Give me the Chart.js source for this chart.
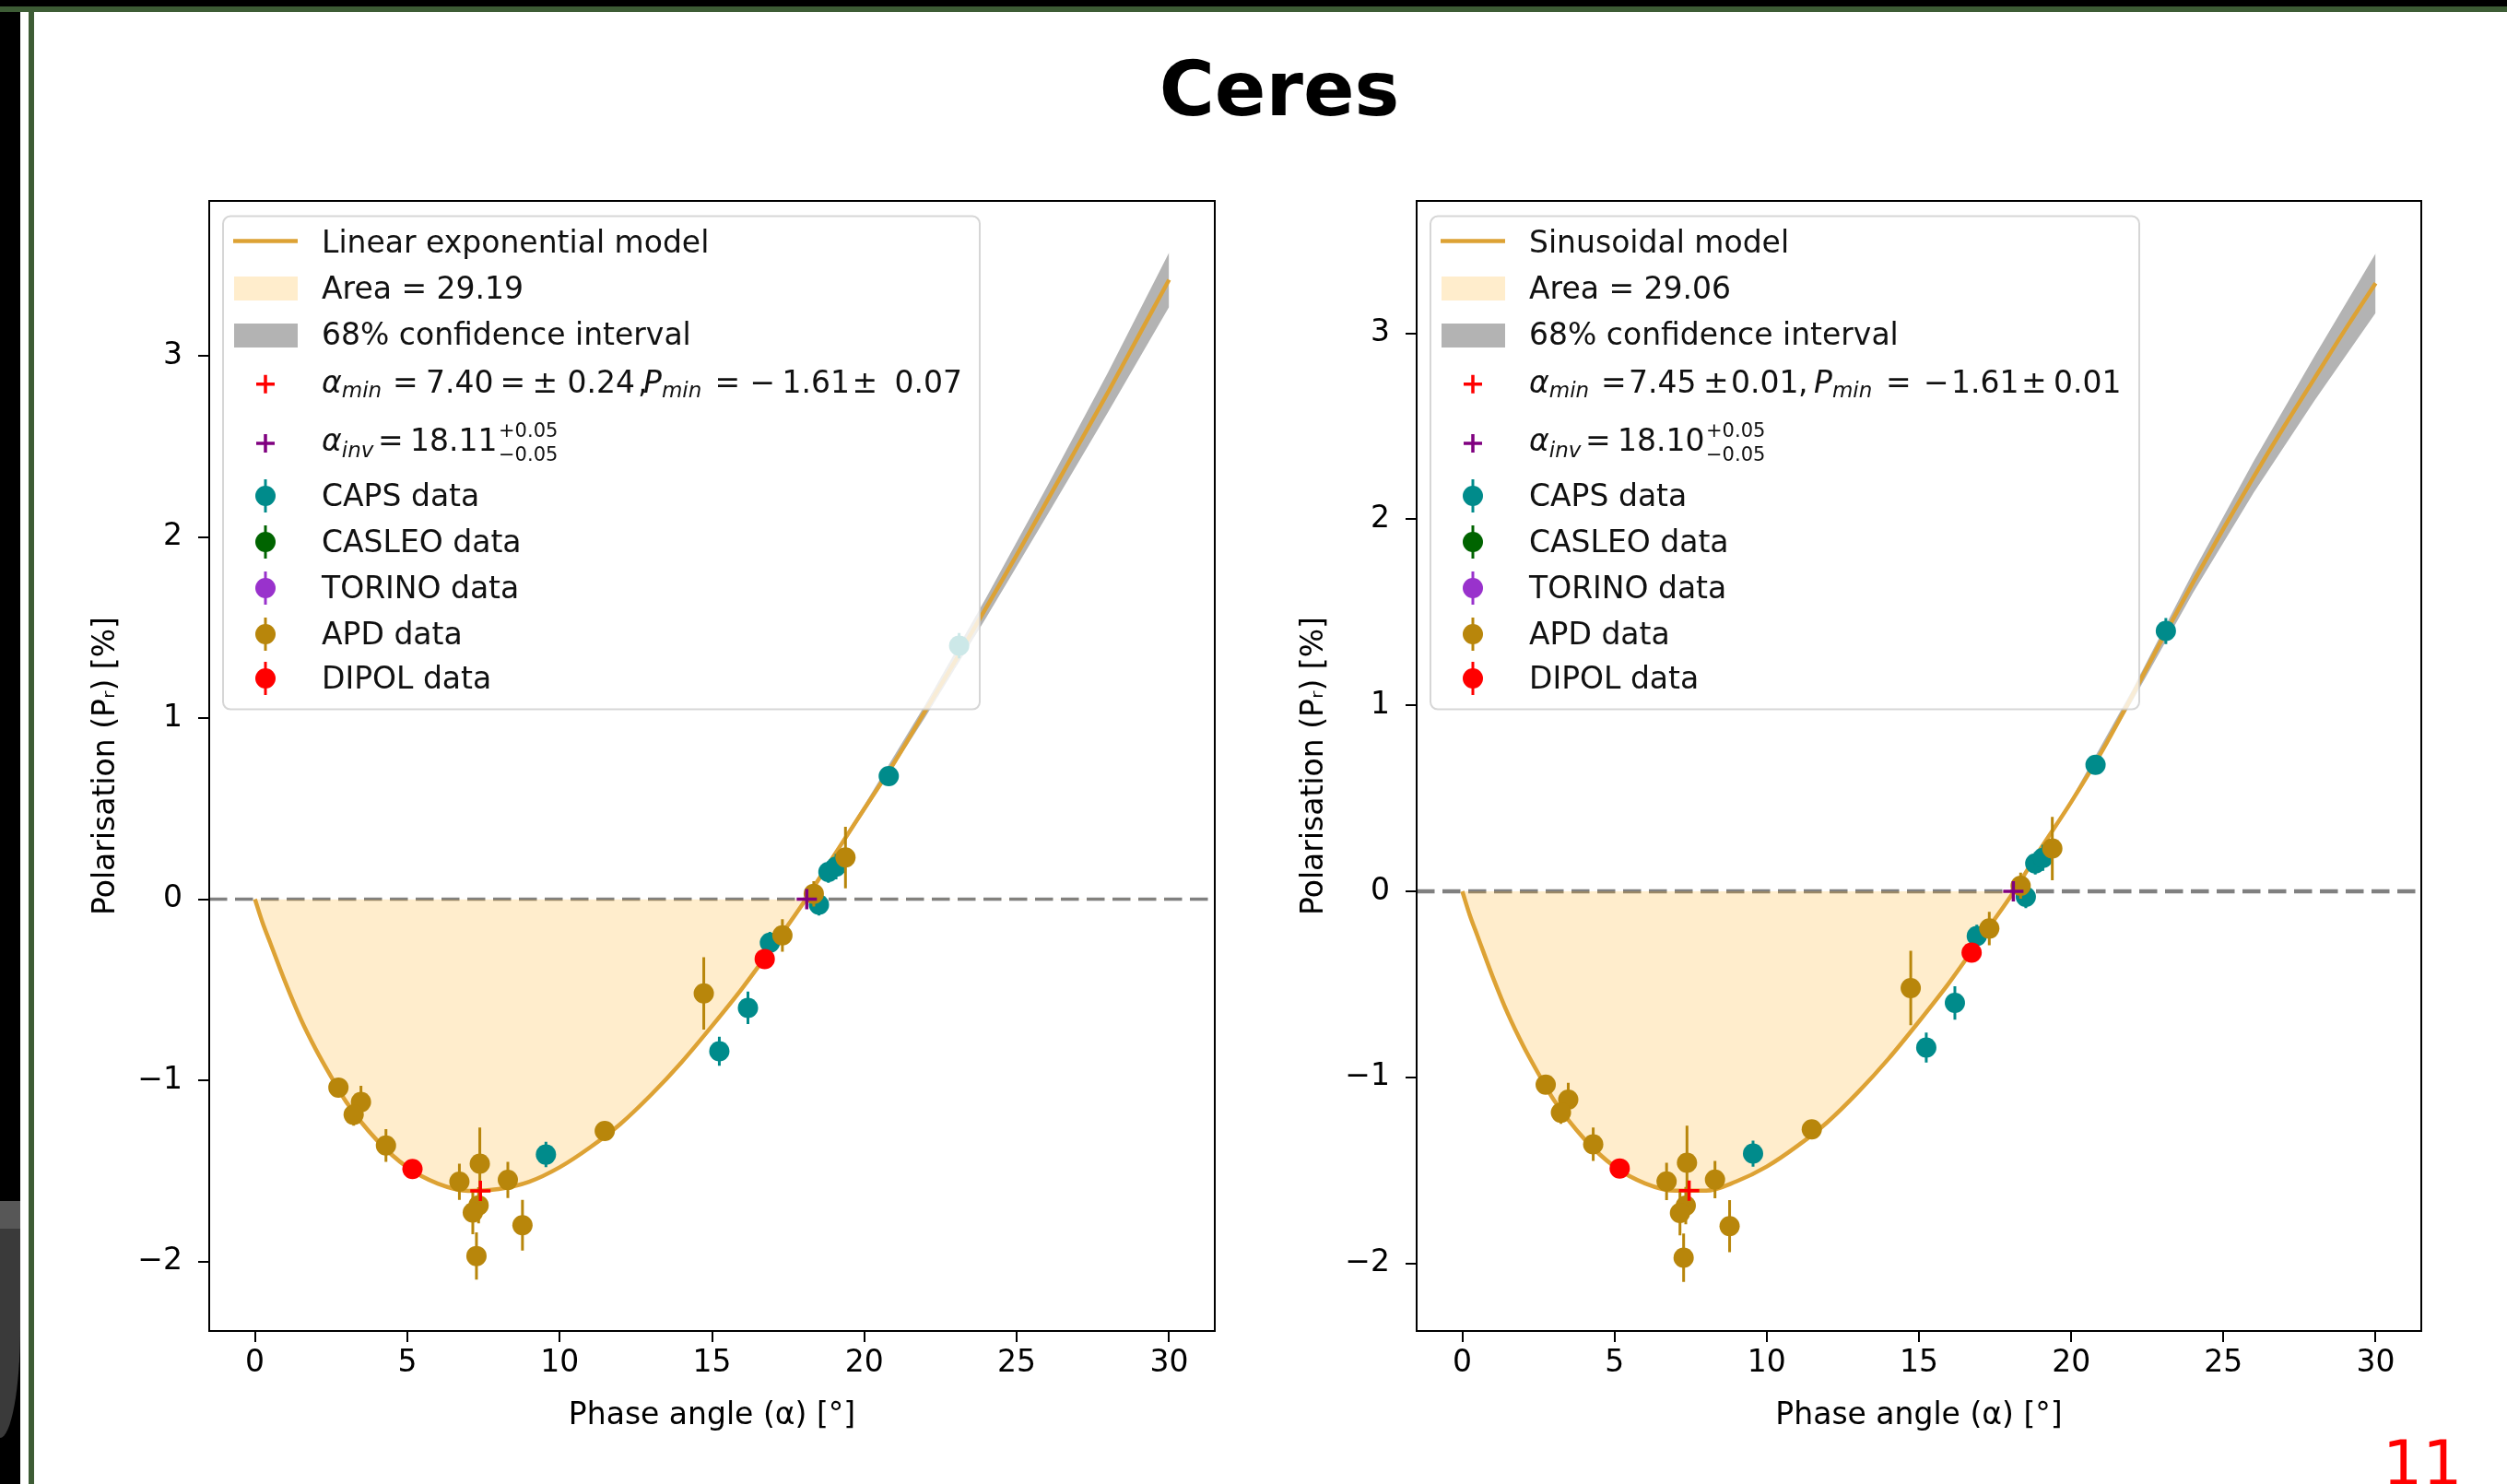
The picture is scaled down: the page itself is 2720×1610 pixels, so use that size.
<!DOCTYPE html>
<html>
<head>
<meta charset="utf-8">
<script src="https://cdn.jsdelivr.net/npm/chart.js@4.4.0/dist/chart.umd.min.js"></script>
<style>
html,body{margin:0;padding:0;background:#fff;}
body{width:2720px;height:1610px;position:relative;overflow:hidden;font-family:"DejaVu Sans";}
.abs{position:absolute;}
#topband{left:0;top:0;width:2720px;height:7px;background:#000;}
#topline{left:0;top:7px;width:2720px;height:6px;background:#3d5c35;}
#leftband{left:0;top:13px;width:22px;height:1597px;background:#000;}
#leftline{left:31px;top:13px;width:6px;height:1597px;background:#3d5c35;}
#sw1{left:0;top:1303px;width:22px;height:30px;background:#575757;}
#sw2{left:0;top:1333px;width:22px;height:227px;background:#3a3a3a;border-bottom-right-radius:22px 120px;}
#title{left:888px;width:1000px;top:56px;text-align:center;font:bold 82px/82px "DejaVu Sans";color:#000;}
#pagenum{left:2585px;top:1554px;font:68px/68px "DejaVu Sans";color:#ff0000;white-space:nowrap;}
canvas{position:absolute;}
#c1{left:0;top:150px;}
#c2{left:1360px;top:150px;}
</style>
</head>
<body>
<div class="abs" id="topband"></div>
<div class="abs" id="topline"></div>
<div class="abs" id="leftband"></div>
<div class="abs" id="leftline"></div>
<div class="abs" id="sw1"></div>
<div class="abs" id="sw2"></div>
<div class="abs" id="title">Ceres</div>
<div class="abs" id="pagenum">11</div>
<canvas id="c1" width="1360" height="1460" style="width:1360px;height:1460px"></canvas>
<canvas id="c2" width="1360" height="1460" style="width:1360px;height:1460px"></canvas>
<script>
// ---------------- DATA ----------------
const xTickValues = [0, 5, 10, 15, 20, 25, 30];
const yTickValues = [-2, -1, 0, 1, 2, 3];

// model curves
const modelPhase = [0,0.25,0.5,1,1.5,2,2.5,3,4,5,6,7,8,9,10,11,12,13,14,15,16,17,18,19,20,21,22,23,24,25,26,27,28,29,30];
const linExpModel = [0,-0.13,-0.24,-0.46,-0.66,-0.83,-0.98,-1.12,-1.33,-1.48,-1.57,-1.61,-1.60,-1.56,-1.48,-1.37,-1.24,-1.08,-0.90,-0.70,-0.49,-0.26,-0.02,0.24,0.50,0.76,1.04,1.32,1.61,1.90,2.20,2.50,2.80,3.11,3.42];
const sinModel    = [0,-0.13,-0.24,-0.46,-0.66,-0.83,-0.98,-1.12,-1.33,-1.48,-1.57,-1.61,-1.61,-1.56,-1.48,-1.37,-1.24,-1.08,-0.90,-0.70,-0.49,-0.26,-0.03,0.23,0.48,0.75,1.05,1.36,1.66,1.95,2.23,2.50,2.76,3.02,3.27];

// 68% confidence bands
const bandPhase = [18, 20, 22, 24, 26, 28, 30];
const linExpBandHi = [-0.01, 0.52, 1.075, 1.665, 2.28, 2.91, 3.57];
const linExpBandLo = [-0.03, 0.48, 1.005, 1.555, 2.12, 2.69, 3.27];
const sinBandHi = [-0.02, 0.495, 1.08, 1.715, 2.315, 2.88, 3.43];
const sinBandLo = [-0.04, 0.465, 1.02, 1.605, 2.145, 2.64, 3.11];

// observations: phase angle, polarisation, error
const capsPhase = [9.55, 15.24, 16.18, 16.9, 18.51, 18.82, 19.07, 20.8, 23.11];
const capsPol   = [-1.41, -0.84, -0.60, -0.24, -0.03, 0.15, 0.18, 0.68, 1.40];
const capsErr   = [0.07, 0.08, 0.09, 0.06, 0.06, 0.06, 0.07, 0.05, 0.07];
const casleoPhase = [], casleoPol = [], casleoErr = [];
const torinoPhase = [], torinoPol = [], torinoErr = [];
const apdPhase = [2.74, 3.48, 3.24, 4.30, 6.71, 7.38, 7.34, 7.15, 7.27, 8.30, 8.78, 11.48, 14.73, 17.31, 18.34, 19.38];
const apdPol   = [-1.04, -1.12, -1.19, -1.36, -1.56, -1.46, -1.69, -1.73, -1.97, -1.55, -1.80, -1.28, -0.52, -0.20, 0.03, 0.23];
const apdErr   = [0.05, 0.09, 0.06, 0.09, 0.10, 0.20, 0.10, 0.12, 0.13, 0.10, 0.14, 0.05, 0.20, 0.09, 0.07, 0.17];
const dipolPhase = [5.17, 16.73];
const dipolPol   = [-1.49, -0.33];
const dipolErr   = [0.03, 0.04];

// fitted parameters (markers)
const linExpMin = [7.40, -1.61];
const linExpInv = [18.11, 0];
const sinMin = [7.45, -1.61];
const sinInv = [18.10, 0];

const instrumentLabels = ['CAPS data', 'CASLEO data', 'TORINO data', 'APD data', 'DIPOL data'];
const instrumentColors = ['#008B8B', '#006400', '#9932CC', '#B8860B', '#FF0000'];

// ---------------- STYLE ----------------
Chart.defaults.font.family = '"DejaVu Sans"';
Chart.defaults.font.size = 33;
Chart.defaults.color = '#000';
const MODEL_COLOR = '#DDA234';
const AREA_FILL = 'rgba(255,165,0,0.2)';
const CI_FILL = 'rgba(128,128,128,0.6)';

const pts = (xs, ys) => xs.map((x, i) => ({x: x, y: ys[i]}));
const minusFmt = v => (v < 0 ? '\u2212' + Math.abs(v) : String(v));

// legend settings kept outside Chart.js option proxies
const LEGENDS = {
  c1: {
    width: 821, modelLabel: 'Linear exponential model', areaLabel: 'Area = 29.19',
    minRuns: [{t:'\u03b1',it:1,at:0},{t:'min',it:1,sub:1},{t:'=',at:77},{t:'7.40',at:113},{t:'=',at:193.5},{t:'\u00b1',at:228.5},{t:'0.24',at:266.5},{t:',',at:343},{t:'P',it:1,at:349},{t:'min',it:1,sub:1},{t:'=',at:426.5},{t:'\u2212',at:464.5},{t:'1.61',at:499.5},{t:'\u00b1',at:575.5},{t:'0.07',at:621.5}],
    invRuns: [{t:'\u03b1',it:1,at:0},{t:'inv',it:1,sub:1,dy:7},{t:'=',at:61},{t:'18.11',at:96},{t:'+0.05',sup:1,keep:1,at:192},{t:'\u22120.05',subs:1,at:192}]
  },
  c2: {
    width: 769, modelLabel: 'Sinusoidal model', areaLabel: 'Area = 29.06',
    minRuns: [{t:'\u03b1',it:1,at:0},{t:'min',it:1,sub:1},{t:'=',at:78},{t:'7.45',at:108},{t:'\u00b1',at:189},{t:'0.01',at:219},{t:',',at:292},{t:'P',it:1,at:309},{t:'min',it:1,sub:1},{t:'=',at:387},{t:'\u2212',at:428},{t:'1.61',at:458},{t:'\u00b1',at:534},{t:'0.01',at:569}],
    invRuns: [{t:'\u03b1',it:1,at:0},{t:'inv',it:1,sub:1,dy:7},{t:'=',at:61},{t:'18.10',at:96},{t:'+0.05',sup:1,keep:1,at:192},{t:'\u22120.05',subs:1,at:192}]
  }
};

const zeroLinePlugin = {
  id: 'zeroLine',
  beforeDatasetsDraw(chart) {
    const {ctx, chartArea: ca, scales: {y}} = chart;
    const py = y.getPixelForValue(0);
    ctx.save();
    ctx.setLineDash([19.5, 8.5]);
    ctx.strokeStyle = '#808080';
    ctx.lineWidth = chart.canvas.id === 'c1' ? 3.5 : 4.5;
    ctx.beginPath();
    ctx.moveTo(ca.left, py);
    ctx.lineTo(ca.right, py);
    ctx.stroke();
    ctx.restore();
  }
};

const errorBarPlugin = {
  id: 'errBars',
  beforeDatasetDraw(chart, args) {
    const ds = chart.data.datasets[args.index];
    if (!ds.yerr) return;
    const {ctx, chartArea: ca, scales: {x, y}} = chart;
    ctx.save();
    ctx.beginPath();
    ctx.rect(ca.left, ca.top, ca.width, ca.height);
    ctx.clip();
    ctx.strokeStyle = ds.backgroundColor;
    ctx.lineWidth = 3;
    ctx.beginPath();
    ds.data.forEach((p, i) => {
      const e = ds.yerr[i];
      const px = x.getPixelForValue(p.x);
      ctx.moveTo(px, y.getPixelForValue(p.y - e));
      ctx.lineTo(px, y.getPixelForValue(p.y + e));
    });
    ctx.stroke();
    ctx.restore();
  }
};

const framePlugin = {
  id: 'frame',
  afterDatasetsDraw(chart) {
    const {ctx, chartArea: ca} = chart;
    ctx.save();
    ctx.strokeStyle = '#000';
    ctx.lineWidth = 2;
    ctx.strokeRect(ca.left, ca.top, ca.width, ca.height);
    ctx.restore();
  }
};

function drawRuns(ctx, x, y, runs) {
  let cx = x;
  for (let k = 0; k < runs.length; k++) {
    const r = runs[k];
    let size = 33, dy = 0;
    if (r.sub) { size = 23; dy = (typeof r.dy === 'number') ? r.dy : 5; }
    if (r.sup) { size = 21; dy = -15; }
    if (r.subs) { size = 21; dy = 11; }
    ctx.font = (r.it ? 'italic ' : '') + size + 'px "DejaVu Sans"';
    if (typeof r.at === 'number') cx = x + r.at;
    ctx.fillText(r.t, cx, y + dy);
    if (!r.keep) cx += ctx.measureText(r.t).width;
  }
}

const legendPlugin = {
  id: 'mplLegend',
  afterDraw(chart) {
    const o = LEGENDS[chart.canvas.id];
    const {ctx, chartArea: ca} = chart;
    const L = ca.left, T = ca.top;
    ctx.save();
    const bx = L + 15, by = T + 16.6, bw = o.width, bh = 535;
    ctx.beginPath();
    if (ctx.roundRect) ctx.roundRect(bx, by, bw, bh, 8); else ctx.rect(bx, by, bw, bh);
    ctx.fillStyle = 'rgba(255,255,255,0.8)';
    ctx.fill();
    ctx.lineWidth = 2;
    ctx.strokeStyle = 'rgba(204,204,204,0.8)';
    ctx.stroke();

    const hY = [43.4, 95, 146, 198.8, 263, 320, 370, 420, 470, 518];
    const tY = [56, 106, 156, 208, 271, 331, 381, 431, 481, 529];
    const hx0 = L + 26, hx1 = L + 96, mx = L + 61, tx = L + 122;
    const entries = [
      {type: 'line', color: MODEL_COLOR, text: o.modelLabel},
      {type: 'patch', color: AREA_FILL, text: o.areaLabel},
      {type: 'patch', color: CI_FILL, text: '68% confidence interval'},
      {type: 'plus', color: '#FF0000', runs: o.minRuns},
      {type: 'plus', color: '#800080', runs: o.invRuns}
    ];
    instrumentLabels.forEach((lab, i) => entries.push({type: 'err', color: instrumentColors[i], text: lab}));

    ctx.textBaseline = 'alphabetic';
    ctx.textAlign = 'left';
    entries.forEach((e, i) => {
      const cy = T + hY[i];
      ctx.save();
      if (e.type === 'line') {
        ctx.strokeStyle = e.color; ctx.lineWidth = 4.5;
        ctx.beginPath(); ctx.moveTo(hx0, cy); ctx.lineTo(hx1, cy); ctx.stroke();
      } else if (e.type === 'patch') {
        ctx.fillStyle = e.color;
        ctx.fillRect(hx0 + 1, cy - 13, hx1 - hx0 - 1, 26);
      } else if (e.type === 'plus') {
        ctx.strokeStyle = e.color; ctx.lineWidth = 3.5;
        ctx.beginPath();
        ctx.moveTo(mx - 10, cy); ctx.lineTo(mx + 10, cy);
        ctx.moveTo(mx, cy - 10); ctx.lineTo(mx, cy + 10);
        ctx.stroke();
      } else if (e.type === 'err') {
        ctx.strokeStyle = e.color; ctx.fillStyle = e.color; ctx.lineWidth = 3;
        ctx.beginPath(); ctx.moveTo(mx, cy - 18); ctx.lineTo(mx, cy + 18); ctx.stroke();
        ctx.beginPath(); ctx.arc(mx, cy, 11, 0, Math.PI * 2); ctx.fill();
      }
      ctx.restore();
      ctx.fillStyle = '#111';
      if (e.runs) {
        drawRuns(ctx, tx, T + tY[i], e.runs);
      } else {
        ctx.font = '33px "DejaVu Sans"';
        ctx.fillText(e.text, tx, T + tY[i]);
      }
    });
    ctx.restore();
  }
};

function buildChart(id, p) {
  const scatterSet = (label, xs, ys, errs, color, order) => ({
    label: label, data: pts(xs, ys), yerr: errs,
    backgroundColor: color, borderColor: color, borderWidth: 0,
    pointRadius: 11, pointStyle: 'circle', order: order
  });
  return new Chart(document.getElementById(id), {
    type: 'scatter',
    data: {
      datasets: [
        {type: 'line', label: p.modelLabel, data: pts(modelPhase, p.model),
         borderColor: MODEL_COLOR, borderWidth: 4.5, pointRadius: 0,
         cubicInterpolationMode: 'monotone',
         fill: {target: {value: 0}, above: 'rgba(0,0,0,0)', below: AREA_FILL}, order: 10},
        {type: 'line', label: 'ci-hi', data: pts(bandPhase, p.bandHi),
         borderColor: 'rgba(0,0,0,0)', borderWidth: 0, pointRadius: 0, fill: false, order: 20},
        {type: 'line', label: '68% confidence interval', data: pts(bandPhase, p.bandLo),
         borderColor: 'rgba(0,0,0,0)', borderWidth: 0, pointRadius: 0,
         fill: '-1', backgroundColor: CI_FILL, order: 20},
        scatterSet('CAPS data', capsPhase, capsPol, capsErr, instrumentColors[0], 5),
        scatterSet('CASLEO data', casleoPhase, casleoPol, casleoErr, instrumentColors[1], 4),
        scatterSet('TORINO data', torinoPhase, torinoPol, torinoErr, instrumentColors[2], 3),
        scatterSet('APD data', apdPhase, apdPol, apdErr, instrumentColors[3], 2),
        scatterSet('DIPOL data', dipolPhase, dipolPol, dipolErr, instrumentColors[4], 1),
        {label: 'alpha_min', data: [{x: p.min[0], y: p.min[1]}], pointStyle: 'cross',
         pointRadius: 11, borderColor: '#FF0000', backgroundColor: '#FF0000', borderWidth: 3.5, order: 0},
        {label: 'alpha_inv', data: [{x: p.inv[0], y: p.inv[1]}], pointStyle: 'cross',
         pointRadius: 11, borderColor: '#800080', backgroundColor: '#800080', borderWidth: 3.5, order: 0}
      ]
    },
    options: {
      responsive: false, animation: false, events: [],
      layout: {padding: {left: 0, top: 68, right: p.padRight, bottom: 0}},
      plugins: {legend: {display: false}, tooltip: {enabled: false}},
      scales: {
        x: {
          type: 'linear', min: -1.5, max: 31.5,
          afterFit: s => { s.height = 166; },
          afterBuildTicks: s => { s.ticks = xTickValues.map(v => ({value: v})); },
          grid: {display: true, drawOnChartArea: false, drawTicks: true, tickLength: 12, tickWidth: 2, lineWidth: 2, tickColor: '#000', color: '#000'},
          border: {display: false},
          ticks: {padding: 4, color: '#000', font: {size: 33}, maxRotation: 0, autoSkip: false, callback: v => minusFmt(v)},
          title: {display: true, text: 'Phase angle (\u03b1) [\u00b0]', color: '#000', font: {size: 33}, padding: {top: 0, bottom: 54}}
        },
        y: {
          type: 'linear', min: p.ymin, max: p.ymax,
          afterFit: s => { s.width = p.yAxisW; },
          afterBuildTicks: s => { s.ticks = yTickValues.map(v => ({value: v})); },
          grid: {display: true, drawOnChartArea: false, drawTicks: true, tickLength: 12, tickWidth: 2, lineWidth: 2, tickColor: '#000', color: '#000'},
          border: {display: false},
          ticks: {padding: 17, color: '#000', font: {size: 33}, autoSkip: false, callback: v => minusFmt(v)},
          title: {display: true, text: 'Polarisation (P\u1d63) [%]', color: '#000', font: {size: 33}, padding: {top: p.yTitlePad, bottom: 0}}
        }
      }
    },
    plugins: [zeroLinePlugin, errorBarPlugin, framePlugin, legendPlugin]
  });
}

buildChart('c1', {
  model: linExpModel, bandHi: linExpBandHi, bandLo: linExpBandLo,
  min: linExpMin, inv: linExpInv, modelLabel: 'Linear exponential model',
  ymin: -2.384, ymax: 3.855, yAxisW: 227, padRight: 42, yTitlePad: 96
});

buildChart('c2', {
  model: sinModel, bandHi: sinBandHi, bandLo: sinBandLo,
  min: sinMin, inv: sinInv, modelLabel: 'Sinusoidal model',
  ymin: -2.364, ymax: 3.712, yAxisW: 177, padRight: 93, yTitlePad: 47
});
</script>
</body>
</html>
